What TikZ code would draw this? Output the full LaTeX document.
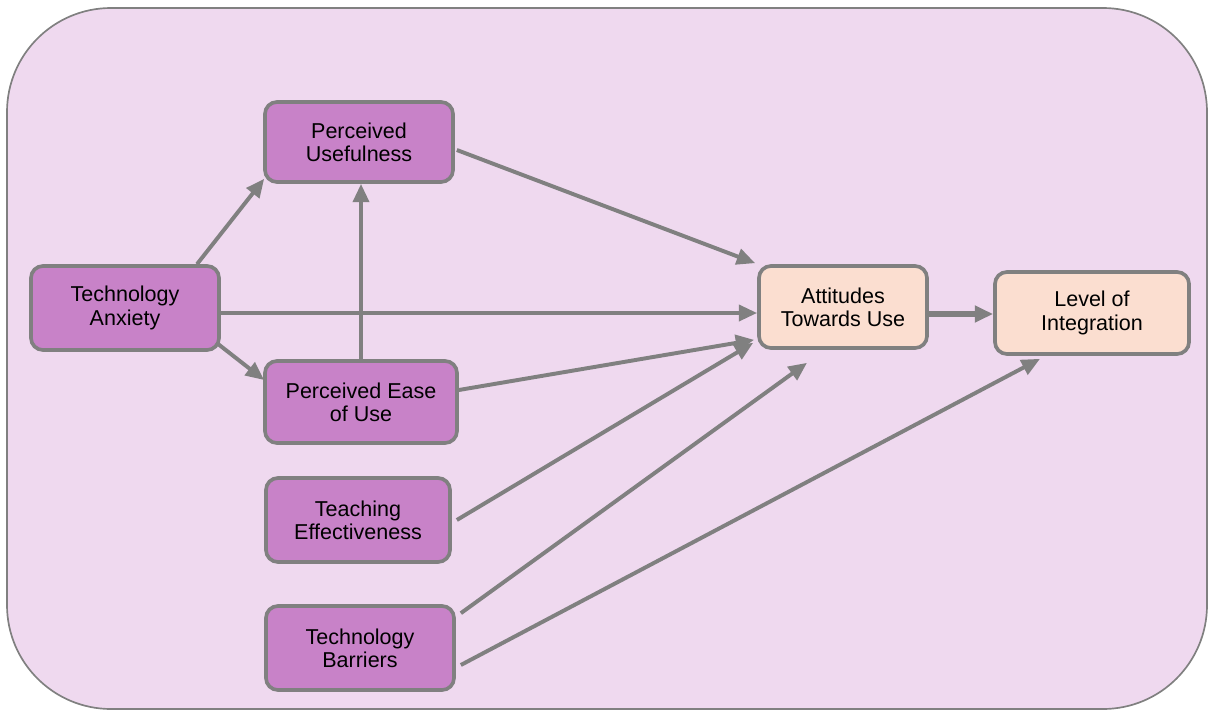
\documentclass[tikz,border=0pt]{standalone}
\usepackage{fontspec}
\setmainfont{Liberation Sans}
\usetikzlibrary{arrows.meta,calc}
\definecolor{bgpink}{RGB}{239,217,239}
\definecolor{boxpurple}{RGB}{200,130,200}
\definecolor{boxpeach}{RGB}{251,222,208}
\definecolor{linegray}{RGB}{128,128,128}
\begin{document}
\begin{tikzpicture}
	[x=0.025cm,y=-0.025cm,
	every node/.style={draw=linegray,line width=2.6pt,rounded corners=0.3cm,align=center,font=\fontsize{15.3}{16.5}\selectfont},
	factor/.style={fill=boxpurple},
	outcome/.style={fill=boxpeach},
	arrow/.style={draw=linegray,line width=2.8pt,-{Triangle[length=0.46cm,width=0.4cm]}}]
	\useasboundingbox (0,0) rectangle (1209,711);
	\draw[draw=linegray,line width=1.2pt,fill=bgpink,rounded corners=2.6cm] (7,8) rectangle (1207,709);
	% predictors
	\node[factor,minimum width=4.7cm,minimum height=2.1cm] (ta) at (125,308) {Technology\\Anxiety};
	\node[factor,minimum width=4.7cm,minimum height=2.0cm] (pu) at (359,142) {Perceived\\Usefulness};
	\node[factor,minimum width=4.8cm,minimum height=2.05cm] (peou) at (361,402) {Perceived Ease\\of Use};
	\node[factor,minimum width=4.6cm,minimum height=2.1cm] (te) at (358,520) {Teaching\\Effectiveness};
	\node[factor,minimum width=4.7cm,minimum height=2.1cm] (tb) at (360,648) {Technology\\Barriers};
	% outcomes
	\node[outcome,minimum width=4.2cm,minimum height=2.05cm] (atu) at (843,307) {Attitudes\\Towards Use};
	\node[outcome,minimum width=4.85cm,minimum height=2.05cm] (loi) at (1092,313) {Level of\\Integration};
	% paths
	\draw[arrow] ($(ta.north)+(72,0)$) -- ($(pu.south west)+(1,-5)$);
	\draw[arrow] ($(ta.south east)+(-3,-8)$) -- ($(peou.west)+(1,-22)$);
	\draw[arrow] ($(ta.east)+(0,5)$) -- ($(atu.west)+(0,6)$);
	\draw[arrow] (peou.north) -- (peou.north |- pu.south);
	\draw[arrow] ($(pu.east)+(2,8)$) -- ($(atu.north west)+(-2,-1)$);
	\draw[arrow] ($(peou.east)+(0,-12)$) -- ($(atu.south west)+(-3,-10)$);
	\draw[arrow] ($(te.east)+(5,0)$) -- ($(atu.south west)+(-4,-7)$);
	\draw[arrow] ($(tb.north east)+(5,9)$) -- ($(atu.south)+(-36,13)$);
	\draw[arrow] ($(tb.east)+(5,17)$) -- ($(loi.south)+(-52,3)$);
	\draw[arrow,line width=4pt] ($(atu.east)+(0,7)$) coordinate (ax) -- (ax -| loi.west);
\end{tikzpicture}
\end{document}
